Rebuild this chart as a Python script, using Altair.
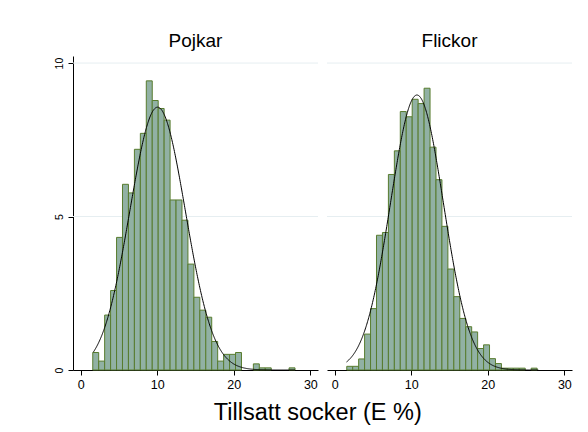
import altair as alt
import pandas as pd

# ---- data (percent per bin) ----
BIN_START = 1.58
BIN_WIDTH = 0.777

pojkar_pct = [0.57, 0.29, 1.79, 2.59, 4.32, 6.05, 5.77, 7.19, 7.71, 9.42,
              8.78, 8.52, 8.14, 5.54, 5.54, 4.88, 3.45, 2.37, 1.95, 1.72,
              0.93, 0.29, 0.51, 0.51, 0.57, 0.0, 0.0, 0.20, 0.07, 0.07,
              0.0, 0.0, 0.0, 0.07]
flickor_pct = [0.12, 0.12, 0.36, 1.17, 2.00, 4.39, 4.48, 6.37, 7.14, 8.42,
               8.25, 8.82, 8.68, 9.18, 7.26, 6.20, 4.68, 3.29, 2.39, 1.68,
               1.41, 1.24, 0.70, 0.82, 0.37, 0.21, 0.06, 0.06, 0.06, 0.06,
               0.0, 0.06, 0.0, 0.0]

panel_titles = ["Pojkar", "Flickor"]
x_title = "Tillsatt socker (E %)"
x_ticks = [0, 10, 20, 30]
y_ticks = [0, 5, 10]
grid_levels = [5, 10]

# fitted normal curves (mean, sd, data range)
fit_mean = [10.05, 10.75]
fit_sd = [3.62, 3.46]
fit_lo = [1.65, 1.55]
fit_hi = [28.0, 26.6]

FONT = "Liberation Sans"
BAR_FILL = "#91b1a4"
BAR_STROKE = "#587c2e"
GRID = "#e6eef1"
XDOM = [-1.0, 31.0]
YDOM = [0, 10.23]


def hist_df(values):
    rows = []
    for i, v in enumerate(values):
        if v > 0:
            lo = BIN_START + i * BIN_WIDTH
            rows.append({"lo": lo, "hi": lo + BIN_WIDTH, "pct": v})
    return pd.DataFrame(rows)


def panel(idx, values, show_y):
    x_scale = alt.Scale(domain=XDOM, nice=False, zero=False)
    y_scale = alt.Scale(domain=YDOM, nice=False)
    x_axis = alt.Axis(values=x_ticks, title=None, grid=False, domainColor="black",
                      tickColor="black", tickSize=5, labelFontSize=12.5, labelPadding=3,
                      labelFont=FONT, labelColor="black", format="d", labelFlush=False)
    if show_y:
        y_axis = alt.Axis(values=y_ticks, title=None, grid=False,
                          domainColor="black", tickColor="black", tickSize=5,
                          labelAngle=270, labelAlign="center", labelBaseline="bottom",
                          labelFontSize=10.5, labelPadding=4, labelFont=FONT,
                          labelColor="black", minExtent=20, maxExtent=20)
    else:
        y_axis = None
    grid = alt.Chart(pd.DataFrame({"g": grid_levels})).mark_rule(
        color=GRID, strokeWidth=1
    ).encode(y=alt.Y("g:Q", scale=y_scale, axis=y_axis))
    bars = alt.Chart(hist_df(values)).mark_bar(
        fill=BAR_FILL, stroke=BAR_STROKE, strokeWidth=1
    ).encode(
        x=alt.X("lo:Q", scale=x_scale, axis=x_axis),
        x2="hi:Q",
        y=alt.Y("pct:Q", scale=y_scale, axis=y_axis),
        y2=alt.datum(0),
    )
    curve = alt.Chart(
        alt.sequence(fit_lo[idx], fit_hi[idx] + 0.001, 0.05, as_="x")
    ).transform_calculate(
        pct=f"densityNormal(datum.x, {fit_mean[idx]}, {fit_sd[idx]}) * 100 * {BIN_WIDTH}"
    ).mark_line(color="black", strokeWidth=1).encode(
        x=alt.X("x:Q", scale=x_scale, axis=x_axis),
        y=alt.Y("pct:Q", scale=y_scale, axis=y_axis),
    )
    return alt.layer(grid, bars, curve).properties(
        width=245, height=314,
        title=alt.TitleParams(panel_titles[idx], fontSize=19, font=FONT,
                              fontWeight="normal", color="black", anchor="middle",
                              baseline="alphabetic", offset=-10),
    )


left = panel(0, pojkar_pct, True)
right = panel(1, flickor_pct, False)

chart = alt.hconcat(left, right, spacing=7).properties(
    title=alt.TitleParams(x_title, orient="bottom", anchor="middle", fontSize=23.5,
                          font=FONT, fontWeight="normal", color="black", offset=10, dx=5),
    padding={"left": 53, "top": 32, "right": 5, "bottom": 5},
).configure(background="white").configure_view(stroke=None, strokeWidth=0)

chart.save("out.html", embed_options={"renderer": "svg", "actions": False})
